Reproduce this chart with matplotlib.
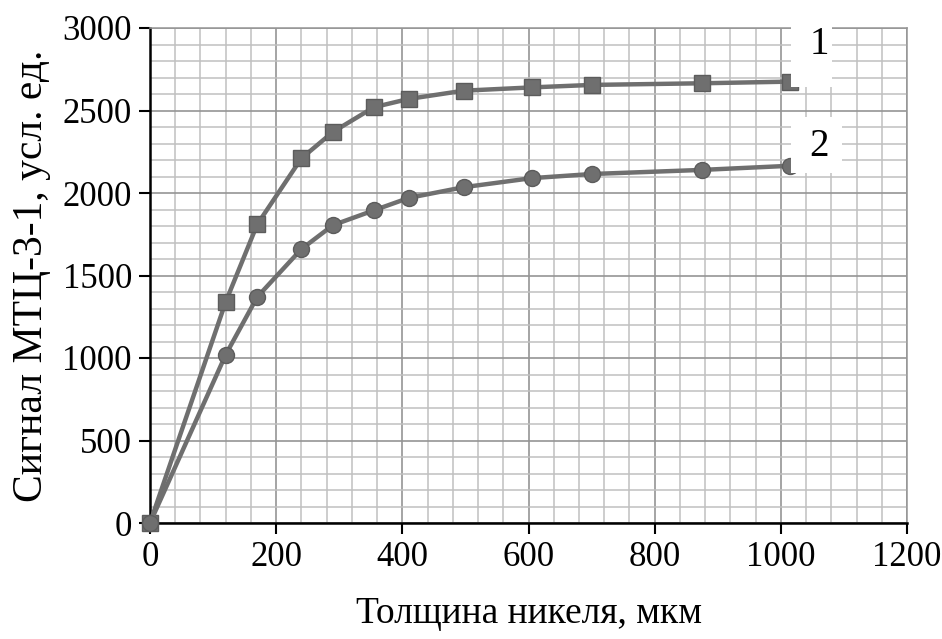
import matplotlib
matplotlib.use("Agg")
import matplotlib.pyplot as plt
from matplotlib.ticker import MultipleLocator
from matplotlib.patches import Rectangle

plt.rcParams['font.family'] = ['Liberation Serif', 'DejaVu Serif']

thickness = [0, 120, 170, 240, 290, 355, 410, 497, 605, 700, 875, 1015]
signal_1 = [0, 1340, 1810, 2210, 2370, 2520, 2570, 2620, 2640, 2655, 2665, 2675]
signal_2 = [0, 1020, 1370, 1660, 1805, 1895, 1970, 2035, 2090, 2115, 2140, 2165]
series_labels = ["1", "2"]
x_label = "Толщина никеля, мкм"
y_label = "Сигнал МТЦ-3-1, усл. ед."

W, H = 942, 639
fig = plt.figure(figsize=(W / 100, H / 100), dpi=100)
ax = fig.add_axes([150 / W, 1 - 523 / H, (907 - 150) / W, (523 - 28) / H])

ax.set_xlim(0, 1200)
ax.set_ylim(0, 3000)
ax.xaxis.set_major_locator(MultipleLocator(200))
ax.xaxis.set_minor_locator(MultipleLocator(40))
ax.yaxis.set_major_locator(MultipleLocator(500))
ax.yaxis.set_minor_locator(MultipleLocator(100))

ax.grid(which='minor', color='#c0c0c0', linewidth=1.1, zorder=0)
ax.grid(which='major', color='#959595', linewidth=1.2, zorder=0)
ax.set_axisbelow(True)

for side in ['top', 'right']:
    ax.spines[side].set_color('#959595')
    ax.spines[side].set_linewidth(1.1)
for side in ['left', 'bottom']:
    ax.spines[side].set_color('black')
    ax.spines[side].set_linewidth(1.8)

ax.tick_params(which='major', direction='out', length=8, width=1.5, labelsize=25,
               colors='black', pad=5)
ax.tick_params(which='minor', length=0)

col = '#6f6f6f'
ax.plot(thickness, signal_1, color=col, linewidth=3.2, marker='s', markersize=11.5,
        markerfacecolor=col, markeredgecolor='#5c5c5c', zorder=3, clip_on=False)
ax.plot(thickness, signal_2, color=col, linewidth=3.2, marker='o', markersize=11.5,
        markerfacecolor=col, markeredgecolor='#5c5c5c', zorder=3, clip_on=False)

ax.set_xlabel(x_label, fontsize=27, labelpad=16)
ax.set_ylabel(y_label, fontsize=30, labelpad=8)

for (x0, y0, x1, y1), lab, (tx, ty) in [((791, 25, 832, 87), series_labels[0], (819, 44)),
                                        ((791, 117, 842, 173), series_labels[1], (819, 147))]:
    fig.patches.append(Rectangle((x0 / W, 1 - y1 / H), (x1 - x0) / W, (y1 - y0) / H,
                                 transform=fig.transFigure, facecolor='white',
                                 edgecolor='none', zorder=5))
    fig.text(tx / W, 1 - ty / H, lab, fontsize=28, ha='center', va='center', zorder=6)

fig.savefig('out.png', dpi=100, facecolor='white')
